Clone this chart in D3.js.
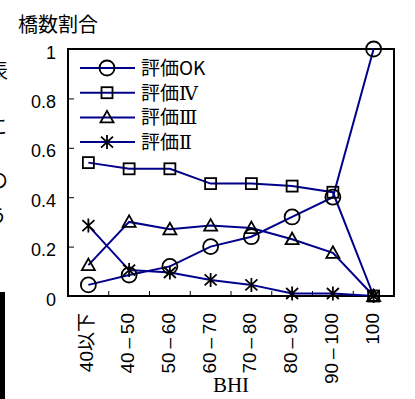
<!DOCTYPE html>
<html>
<head>
<meta charset="utf-8">
<script src="https://cdn.jsdelivr.net/npm/d3@7"></script>
<style>
  html, body { margin: 0; padding: 0; background: #fff; }
  svg { display: block; }
</style>
</head>
<body>
<svg id="chart" width="415" height="399"></svg>
<script>
// BHI bands
const categories = ["40以下", "40\u2009–\u200950", "50\u2009–\u200960", "60\u2009–\u200970", "70\u2009–\u200980", "80\u2009–\u200990", "90\u2009–\u2009100", "100"];
// share of bridges per rating
const seriesPrefix = ["評価", "評価", "評価", "評価"];
const seriesSuffix = ["OK", "Ⅳ", "Ⅲ", "Ⅱ"];
const valuesOK  = [0.045, 0.085, 0.12, 0.20, 0.24, 0.32, 0.40, 1.0];
const valuesIV  = [0.54, 0.515, 0.515, 0.455, 0.455, 0.445, 0.42, 0];
const valuesIII = [0.125, 0.30, 0.27, 0.285, 0.275, 0.23, 0.175, 0];
const valuesII  = [0.285, 0.105, 0.095, 0.065, 0.045, 0.01, 0.01, 0];
const markers   = ["circle", "square", "triangle", "asterisk"];
const yTicks    = [0, 0.2, 0.4, 0.6, 0.8, 1];
const yTickLabels = ["0", "0.2", "0.4", "0.6", "0.8", "1"];
const yTitle = "橋数割合";
const xTitle = "BHI";

const series = [valuesOK, valuesIV, valuesIII, valuesII].map((v, i) => ({
  prefix: seriesPrefix[i], suffix: seriesSuffix[i], values: v, marker: markers[i]
}));

const svg = d3.select("#chart");
const plot = { left: 68, right: 394, top: 49, bottom: 296 };
const LINE = "#00008b";

const x = d3.scaleBand().domain(categories).range([plot.left, plot.right]);
const y = d3.scaleLinear().domain([0, 1]).range([plot.bottom, plot.top]);
const cx = c => x(c) + x.bandwidth() / 2;

// page fragments cut off at the left edge
const edge = svg.append("g").attr("font-family", "'Noto Sans CJK JP'").attr("font-size", 20).attr("fill", "#000");
[["。", -10, 30], ["表", -12, 78], ["に", -13, 134], ["の", -12, 188], ["う", -13, 224]].forEach(([t, ex, ey]) => {
  edge.append("text").attr("x", ex).attr("y", ey).text(t);
});
svg.append("rect").attr("x", 0).attr("y", 292).attr("width", 5).attr("height", 107).attr("fill", "#000");

// y axis ticks and labels
const yAxis = d3.axisLeft(y).tickValues(yTicks).tickSize(-6)
  .tickFormat((d, i) => yTickLabels[i]).tickPadding(12);
const gy = svg.append("g").attr("transform", `translate(${plot.left},0)`).call(yAxis);
gy.select(".domain").remove();
gy.selectAll(".tick line").attr("stroke", "#000").attr("stroke-width", 1);
gy.selectAll(".tick text")
  .attr("font-family", "'Liberation Sans', Arial, sans-serif")
  .attr("font-size", 18).attr("fill", "#000").attr("dy", "0.5em");

// x axis: ticks between bands, pointing inward
const bounds = categories.slice(1).map(c => x(c));
svg.append("g").selectAll("line").data(bounds).join("line")
  .attr("x1", d => d).attr("x2", d => d)
  .attr("y1", plot.bottom).attr("y2", plot.bottom - 5)
  .attr("stroke", "#000").attr("stroke-width", 1);

svg.append("g").selectAll("text").data(categories).join("text")
  .attr("transform", d => `translate(${cx(d) + 5},313) rotate(-90)`)
  .attr("text-anchor", "end")
  .attr("font-family", "'Liberation Sans', 'Noto Sans CJK JP', sans-serif")
  .attr("font-size", 19).attr("fill", "#000")
  .text(d => d);

// plot frame
svg.append("rect")
  .attr("x", plot.left).attr("y", plot.top)
  .attr("width", plot.right - plot.left).attr("height", plot.bottom - plot.top)
  .attr("fill", "none").attr("stroke", "#000").attr("stroke-width", 2);

// titles
svg.append("text").attr("x", 18).attr("y", 32)
  .attr("font-family", "'Noto Sans CJK JP', sans-serif").attr("font-size", 20)
  .attr("fill", "#000").text(yTitle);
svg.append("text").attr("x", (plot.left + plot.right) / 2).attr("y", 392)
  .attr("text-anchor", "middle")
  .attr("font-family", "'Liberation Serif', 'Times New Roman', serif").attr("font-size", 21)
  .attr("fill", "#000").text(xTitle);

// marker shapes
function drawMarker(g, type) {
  const s = { stroke: "#000", "stroke-width": 1.8, fill: "none" };
  let m;
  if (type === "circle") m = g.append("circle").attr("r", 7.5);
  else if (type === "square") m = g.append("rect").attr("x", -5.5).attr("y", -5.5).attr("width", 11).attr("height", 11);
  else if (type === "triangle") m = g.append("path").attr("d", "M0,-6.5L6.5,5L-6.5,5Z");
  else m = g.append("path").attr("d", "M0,-7V7M-6,-5.5L6,5.5M-6,5.5L6,-5.5");
  Object.entries(s).forEach(([k, v]) => m.attr(k, v));
}

const line = d3.line().x((d, i) => cx(categories[i])).y(d => y(d));

// lines
svg.append("g").selectAll("path").data(series).join("path")
  .attr("d", d => line(d.values))
  .attr("fill", "none").attr("stroke", LINE).attr("stroke-width", 2);

// markers
series.forEach(s => {
  s.values.forEach((v, i) => {
    const g = svg.append("g").attr("transform", `translate(${cx(categories[i])},${y(v)})`);
    drawMarker(g, s.marker);
  });
});

// legend
const legend = svg.append("g");
series.forEach((s, i) => {
  const ly = 68 + i * 24.7;
  legend.append("line").attr("x1", 80).attr("x2", 135).attr("y1", ly).attr("y2", ly)
    .attr("stroke", LINE).attr("stroke-width", 2);
  drawMarker(legend.append("g").attr("transform", `translate(107,${ly})`), s.marker);
  const t = legend.append("text").attr("x", 141).attr("y", ly + 7)
    .attr("font-family", "'Noto Sans CJK JP', sans-serif").attr("font-size", 19)
    .attr("fill", "#000");
  t.append("tspan").text(s.prefix);
  t.append("tspan")
    .attr("font-family", i === 0 ? "'Noto Sans CJK JP', sans-serif" : "'DejaVu Serif', serif")
    .text(s.suffix);
});
</script>
</body>
</html>
